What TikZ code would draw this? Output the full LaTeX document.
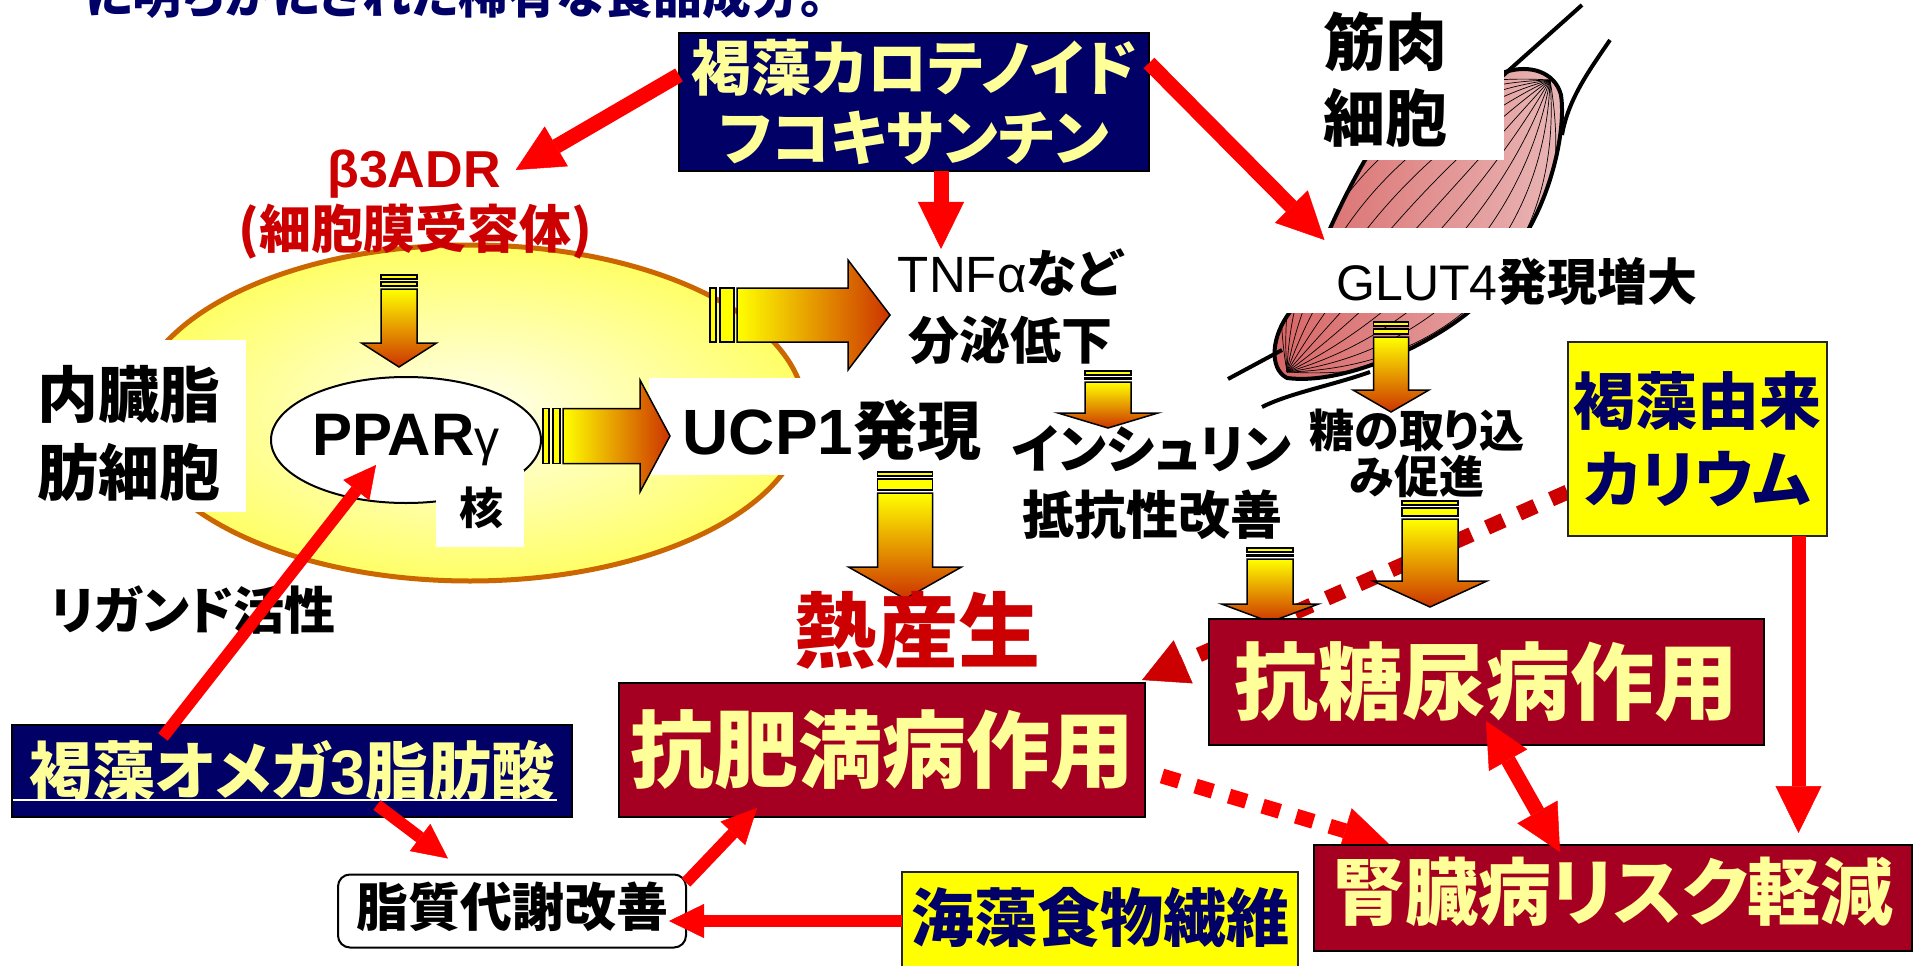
\documentclass[tikz,border=0pt]{standalone}
\usepackage{fontspec}
\usetikzlibrary{arrows.meta,shapes.geometric}
\newfontfamily\jp{Noto Sans CJK JP}[RawFeature=+palt]
\newfontfamily\lat{Liberation Sans}
\definecolor{navy}{HTML}{000066}
\definecolor{lyel}{HTML}{FFFF99}
\definecolor{boxred}{HTML}{A50021}
\definecolor{txtred}{HTML}{CC0000}
\definecolor{arrred}{HTML}{FF0000}
\definecolor{yel}{HTML}{FFFF00}
\definecolor{rust}{HTML}{CC3300}
\definecolor{cellrim}{HTML}{CC6600}
\definecolor{cellin}{HTML}{FFFFF2}
\definecolor{cellout}{HTML}{FFFF66}
\definecolor{musA}{HTML}{D86262}
\definecolor{musB}{HTML}{EAB8B8}
\newcommand\fz[2]{\fontsize{#1pt}{#2pt}\selectfont}
\pgfdeclarelayer{paper}
\pgfdeclarelayer{links}
\pgfsetlayers{paper,links,main}

% striped block arrow pointing down: cx, top, shaft top, head start, tip, shaft width, head width
\newcommand\blkdown[7]{%
  \pgfmathsetmacro\bxl{#1-#6/2}\pgfmathsetmacro\bxr{#1+#6/2}%
  \pgfmathsetmacro\hxl{#1-#7/2}\pgfmathsetmacro\hxr{#1+#7/2}%
  \pgfmathsetmacro\sta{#2+4}\pgfmathsetmacro\stb{#2+7}\pgfmathsetmacro\stc{#3-3}%
  \draw[stripe] (\bxl,#2) rectangle (\bxr,\sta);
  \draw[stripe] (\bxl,\stb) rectangle (\bxr,\stc);
  \shade[top color=yel, bottom color=rust, draw=black, line width=1.5pt]
    (\bxl,#3) -- (\bxr,#3) -- (\bxr,#4) -- (\hxr,#4) -- (#1,#5) -- (\hxl,#4) -- (\bxl,#4) -- cycle;
}
% striped block arrow pointing right: cy, left, shaft left, head start, tip, shaft height, head height
\newcommand\blkright[7]{%
  \pgfmathsetmacro\byt{#1-#6/2}\pgfmathsetmacro\byb{#1+#6/2}%
  \pgfmathsetmacro\hyt{#1-#7/2}\pgfmathsetmacro\hyb{#1+#7/2}%
  \pgfmathsetmacro\sta{#2+6}\pgfmathsetmacro\stb{#2+10}\pgfmathsetmacro\stc{#3-3}%
  \draw[stripe] (#2,\byt) rectangle (\sta,\byb);
  \draw[stripe] (\stb,\byt) rectangle (\stc,\byb);
  \shade[left color=yel, right color=rust, draw=black, line width=1.5pt]
    (#3,\byt) -- (#4,\byt) -- (#4,\hyt) -- (#5,#1) -- (#4,\hyb) -- (#4,\byb) -- (#3,\byb) -- cycle;
}

\begin{document}
\begin{tikzpicture}[x=1pt,y=-1pt,
  every node/.style={inner sep=0pt,outer sep=0pt},
  stripe/.style={draw=black,line width=1.2pt,fill=yel},
  navybox/.style={draw=black,line width=2pt,fill=navy,text=lyel},
  redbox/.style={draw=black,line width=2pt,fill=boxred,text=lyel},
  yelbox/.style={draw=black!85,line width=2pt,fill=yel,text=navy},
  redarr/.style={draw=arrred,line width=15pt,-{Triangle[length=47pt,width=46pt,line width=0.5pt]}},
  slimarr/.style={draw=arrred,line width=12pt,-{Triangle[length=35pt,width=34pt,line width=0.5pt]}},
  dotlink/.style={line width=15pt,dash pattern=on 18pt off 17pt},
]
\begin{pgfonlayer}{paper}
\fill[white] (0,0) rectangle (1915,966);
\end{pgfonlayer}
\useasboundingbox (0,0) rectangle (1915,966);

% ---- muscle fibre bundle ----
\begin{scope}
  \clip (1287,378) .. controls (1268,368) and (1272,335) .. (1290,312)
    .. controls (1310,280) and (1330,220) .. (1365,160)
    .. controls (1400,110) and (1470,80) .. (1505,72)
    .. controls (1530,64) and (1555,72) .. (1561,95)
    .. controls (1566,130) and (1552,190) .. (1527,232)
    .. controls (1505,270) and (1485,300) .. (1465,315)
    .. controls (1420,350) and (1340,385) .. (1287,378) -- cycle;
  \shade[left color=musA, right color=musB] (1260,60) rectangle (1570,390);
  \foreach \k in {-150,-125,...,150}
    \draw[line width=0.7pt] (1287,372) .. controls ({1366+0.743*\k},{284+0.669*\k})
      and ({1471+0.743*\k},{168+0.669*\k}) .. (1550,80);
\end{scope}
\draw[line width=4pt] (1287,378) .. controls (1268,368) and (1272,335) .. (1290,312)
    .. controls (1310,280) and (1330,220) .. (1365,160)
    .. controls (1400,110) and (1470,80) .. (1505,72)
    .. controls (1530,64) and (1555,72) .. (1561,95)
    .. controls (1566,130) and (1552,190) .. (1527,232)
    .. controls (1505,270) and (1485,300) .. (1465,315)
    .. controls (1420,350) and (1340,385) .. (1287,378) -- cycle;
\draw[line width=4pt] (1582,5) -- (1498,80);
\draw[line width=4pt] (1610,40) .. controls (1588,72) and (1568,100) .. (1562,135);
\draw[line width=4pt] (1228,379) -- (1282,350);
\draw[line width=4pt] (1262,407) .. controls (1290,393) and (1330,386) .. (1370,372);
\fill[white] (1290,0) rectangle (1504,160);
\fill[white] (1256,228) rectangle (1570,313);

% ---- visceral fat cell ----
\node[ellipse, draw=cellrim, line width=5pt, inner color=cellin, outer color=cellout,
      minimum width=670pt, minimum height=336pt] (adipo) at (470,413) {};
\fill[white] (30,340) rectangle (246,512);
\fill[white] (649,378) rectangle (990,475);
\node[ellipse, draw=black, line width=2pt, fill=white, minimum width=270pt, minimum height=126pt,
      font={\lat\bfseries\fz{60}{60}}] (ppar) at (406,440) {PPAR{\mdseries\fz{50}{50}γ}};
\fill[white] (436,470) rectangle (524,547);

% ---- striped block arrows ----
\blkdown{399}{275}{289}{343}{367}{36}{75}
\blkdown{905}{472}{493}{567}{599}{55}{113}
\blkdown{1108}{371}{382}{413}{428}{46}{100}
\blkdown{1391}{322}{337}{390}{412}{35}{76}
\blkdown{1270}{548}{559}{604}{622}{46}{97}
\blkdown{1430}{501}{519}{581}{607}{56}{114}
\blkright{315}{710}{737}{848}{890}{54}{110}
\blkright{436}{543}{563}{640}{670}{55}{112}

% ---- boxes ----
\node[navybox, minimum width=470pt, minimum height=138pt, align=center,
      font={\jp\bfseries\fz{60}{70}}] (fuco) at (914,102) {褐藻カロテノイド\\フコキサンチン};
\node[redbox, minimum width=526pt, minimum height=134pt,
      font={\jp\bfseries\fz{84}{84}}] (himan) at (882,750) {抗肥満病作用};
\node[redbox, minimum width=555pt, minimum height=126pt,
      font={\jp\bfseries\fz{84}{84}}] (tonyo) at (1486,682) {抗糖尿病作用};
\node[yelbox, minimum width=259pt, minimum height=194pt, align=center,
      font={\jp\bfseries\fz{62}{78}}] (kari) at (1697,439) {褐藻由来\\カリウム};
\node[redbox, minimum width=598pt, minimum height=106pt, text depth=19pt,
      font={\jp\bfseries\fz{73}{73}}] (jin) at (1613,898) {腎臓病リスク軽減};
\node[navybox, minimum width=560pt, minimum height=92pt,
      font={\jp\bfseries\fz{63}{63}}] (omega) at (292,771) {褐藻オメガ{\lat 3}脂肪酸};
\draw[white, line width=1.5pt] (13,800) -- (557,800);
\node[draw=black, line width=2pt, fill=white, rounded corners=12pt, minimum width=348pt,
      minimum height=73pt, text depth=14pt, font={\jp\bfseries\fz{52}{52}}] (shi) at (512,911) {脂質代謝改善};
\node[yelbox, minimum width=396pt, minimum height=110pt, text depth=25pt,
      font={\jp\bfseries\fz{63}{63}}] (kaiso) at (1100,927) {海藻食物繊維};

% ---- dotted links, kept beneath the boxes and block arrows ----
\begin{pgfonlayer}{links}
\draw[dotlink, draw=txtred, -{Triangle[length=45pt,width=47pt,line width=0.5pt]}]
  ([yshift=-53pt]kari.west) -- ([xshift=-3pt,yshift=3pt]himan.north east);
\draw[dotlink, draw=arrred, -{Triangle[length=46pt,width=47pt,line width=0.5pt]}]
  ([xshift=17pt,yshift=-26pt]himan.east) -- ([xshift=75pt,yshift=1pt]jin.north west);
\end{pgfonlayer}

% ---- free texts ----
\node[text=navy, font={\jp\bfseries\fz{49}{49}}] (head) at (455,-5) {に明らかにされた稀有な食品成分。};
\node[text=txtred, font={\lat\bfseries\fz{52}{52}}] (b3) at (414,174) {β3ADR};
\node[text=txtred, font={\jp\bfseries\fz{52}{52}}] (rcp) at (415,231) {(細胞膜受容体)};
\node[align=center, font={\jp\bfseries\fz{61}{78}}] (naizo) at (129,433) {内臓脂\\肪細胞};
\node[font={\jp\bfseries\fz{44}{44}}] (kaku) at (481,508) {核};
\node[font={\jp\bfseries\fz{64}{64}}] (ucp) at (832,430) {{\lat UCP1}発現};
\node[align=center, font={\jp\bfseries\fz{51}{67}}] (tnf) at (1010,307) {{\lat\mdseries TNFα}など\\分泌低下};
\node[align=center, font={\jp\bfseries\fz{52}{66}}] (ins) at (1152,483) {インシュリン\\抵抗性改善};
\node[font={\jp\bfseries\fz{50}{50}}] (glut) at (1517,282) {{\lat\mdseries GLUT4}発現増大};
\node[align=center, font={\jp\bfseries\fz{45}{46}}] (tou) at (1417,453) {糖の取り込\\み促進};
\node[align=center, font={\jp\bfseries\fz{62}{76}}] (kin) at (1385,80) {筋肉\\細胞};
\node[text=txtred, font={\jp\bfseries\fz{82}{82}}] (netsu) at (917,630) {熱産生};
\node[font={\jp\bfseries\fz{51}{51}}] (lig) at (193,610) {リガンド活性};

% ---- red arrows ----
\draw[redarr] ([yshift=27pt]fuco.west) -- ([xshift=15pt,yshift=4pt]b3.east);
\coordinate (fucoS) at ([xshift=27pt]fuco.south);
\draw[redarr] (fucoS) -- (fucoS |- tnf.north);
\draw[redarr] ([yshift=-30pt]fuco.north east) -- ([xshift=-12pt,yshift=18pt]glut.north west);
\draw[slimarr, -{Triangle[length=32pt,width=33pt,line width=0.5pt]}]
  ([xshift=151pt,yshift=-12pt]omega.north west) -- ([xshift=-30pt,yshift=-25pt]ppar.center);
\draw[slimarr] ([xshift=85pt,yshift=12pt]omega.south) -- ([xshift=110pt,yshift=16pt]shi.north west);
\coordinate (kaisoW) at ([yshift=6pt]kaiso.west);
\draw[slimarr, shorten >=-17pt] (kaisoW) -- (kaisoW -| shi.east);
\draw[slimarr] ([yshift=-8pt]shi.north east) -- ([xshift=138pt,yshift=9pt]himan.south west);
\coordinate (kariS) at ([xshift=-28pt]kari.south east);
\draw[redarr, line width=14pt, shorten >=12pt] (kariS) -- (kariS |- jin.north);
\draw[draw=arrred, line width=15pt,
      {Triangle[length=45pt,width=44pt,line width=0.5pt]}-{Triangle[length=46pt,width=46pt,line width=0.5pt]}]
  ([yshift=24pt]tonyo.south) -- ([xshift=-53pt,yshift=-7pt]jin.north);
\end{tikzpicture}
\end{document}
